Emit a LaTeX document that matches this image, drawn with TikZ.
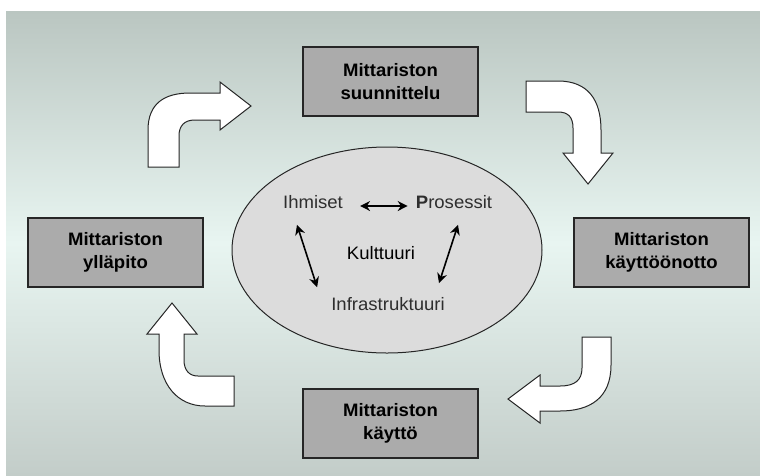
\documentclass[tikz,border=0pt]{standalone}
\usepackage{fontspec}
\setmainfont[FakeStretch=1.03]{Liberation Sans}
\usetikzlibrary{arrows.meta, shapes.geometric}

\definecolor{taustayla}{HTML}{BAC6C1}
\definecolor{taustakeski}{HTML}{E8F5F1}
\definecolor{taustaala}{HTML}{C3CDC9}
\definecolor{laatikko}{HTML}{ABABAB}
\definecolor{soikio}{HTML}{DCDCDC}
\definecolor{teksti}{HTML}{2E2E2E}

\begin{document}
\begin{tikzpicture}[x=1pt, y=-1pt, line join=miter,
	vaihe/.style={draw=black!85, fill=laatikko, line width=1.2pt, minimum width=175pt, minimum height=69pt, align=center, font=\fontsize{18}{23}\selectfont\bfseries},
	osa/.style={text=teksti, inner sep=2pt, font=\fontsize{18}{20}\selectfont},
	kaksi/.style={{Stealth[length=10pt, width=10pt]}-{Stealth[length=10pt, width=10pt]}, line width=1.6pt},
	nuoli/.style={draw=black!85, fill=white, line width=1pt}]

	\useasboundingbox (0,0) rectangle (760,475);
	% tausta
	\shade[top color=taustayla, bottom color=taustaala, middle color=taustakeski] (6,11) rectangle (760,475);

	% laatikot
	\node[vaihe] (suunnittelu) at (390.5, 81.5) {Mittariston\\suunnittelu};
	\node[vaihe] (kayttoonotto) at (661.5, 252.5) {Mittariston\\käyttöönotto};
	\node[vaihe] (kaytto) at (390.5, 423.5) {Mittariston\\käyttö};
	\node[vaihe] (yllapito) at (115.5, 252.5) {Mittariston\\ylläpito};

	% keskellä
	\node[draw=black!85, fill=soikio, line width=1pt, ellipse, minimum width=310pt, minimum height=206pt] (kulttuuri) at (387, 250) {};
	\node[osa] (ihmiset) at (313, 202) {Ihmiset};
	\node[osa] (prosessit) at (454, 202) {\textbf{P}rosessit};
	\node[osa, text=black] (kulttuurit) at (381, 253) {Kulttuuri};
	\node[osa] (infra) at (388, 304) {Infrastruktuuri};

	\draw[kaksi] ([xshift=15pt, yshift=-4pt]ihmiset.east) -- ([xshift=-6pt, yshift=-4pt]prosessit.west);
	\draw[kaksi] ([xshift=-16pt, yshift=-14pt]ihmiset.south) -- ([xshift=-12pt, yshift=8pt]infra.north west);
	\draw[kaksi] ([xshift=4pt, yshift=-14pt]prosessit.south) -- ([xshift=51pt, yshift=12pt]infra.north);

	% kaarinuolet
	\draw[nuoli] (148,167) -- (148,130) .. controls (148,103) and (165,93) .. (190,93) -- (220,93) -- (220,82) -- (251,106) -- (220,130) -- (220,120) -- (195,120) .. controls (184,120) and (179,126) .. (179,136) -- (179,167) -- cycle;
	\draw[nuoli] (526,81) -- (558,81) .. controls (588,81) and (601,100) .. (601,130) -- (601,153) -- (613,153) -- (588,184) -- (563,153) -- (573,153) -- (573,128) .. controls (573,117) and (568,112) .. (558,112) -- (526,112) -- cycle;
	\draw[nuoli] (582,337) -- (611,337) -- (611,365) .. controls (611,398) and (590,411) .. (560,411) -- (540,411) -- (540,423) -- (508,399) -- (540,375) -- (540,386) -- (560,386) .. controls (575,386) and (582,380) .. (582,368) -- cycle;
	\draw[nuoli] (234,376) -- (234,406) -- (205,406) .. controls (178,406) and (159,385) .. (159,350) -- (159,334) -- (147,334) -- (172,303) -- (197,334) -- (184,334) -- (184,360) .. controls (184,370) and (189,376) .. (198,376) -- cycle;
\end{tikzpicture}
\end{document}
